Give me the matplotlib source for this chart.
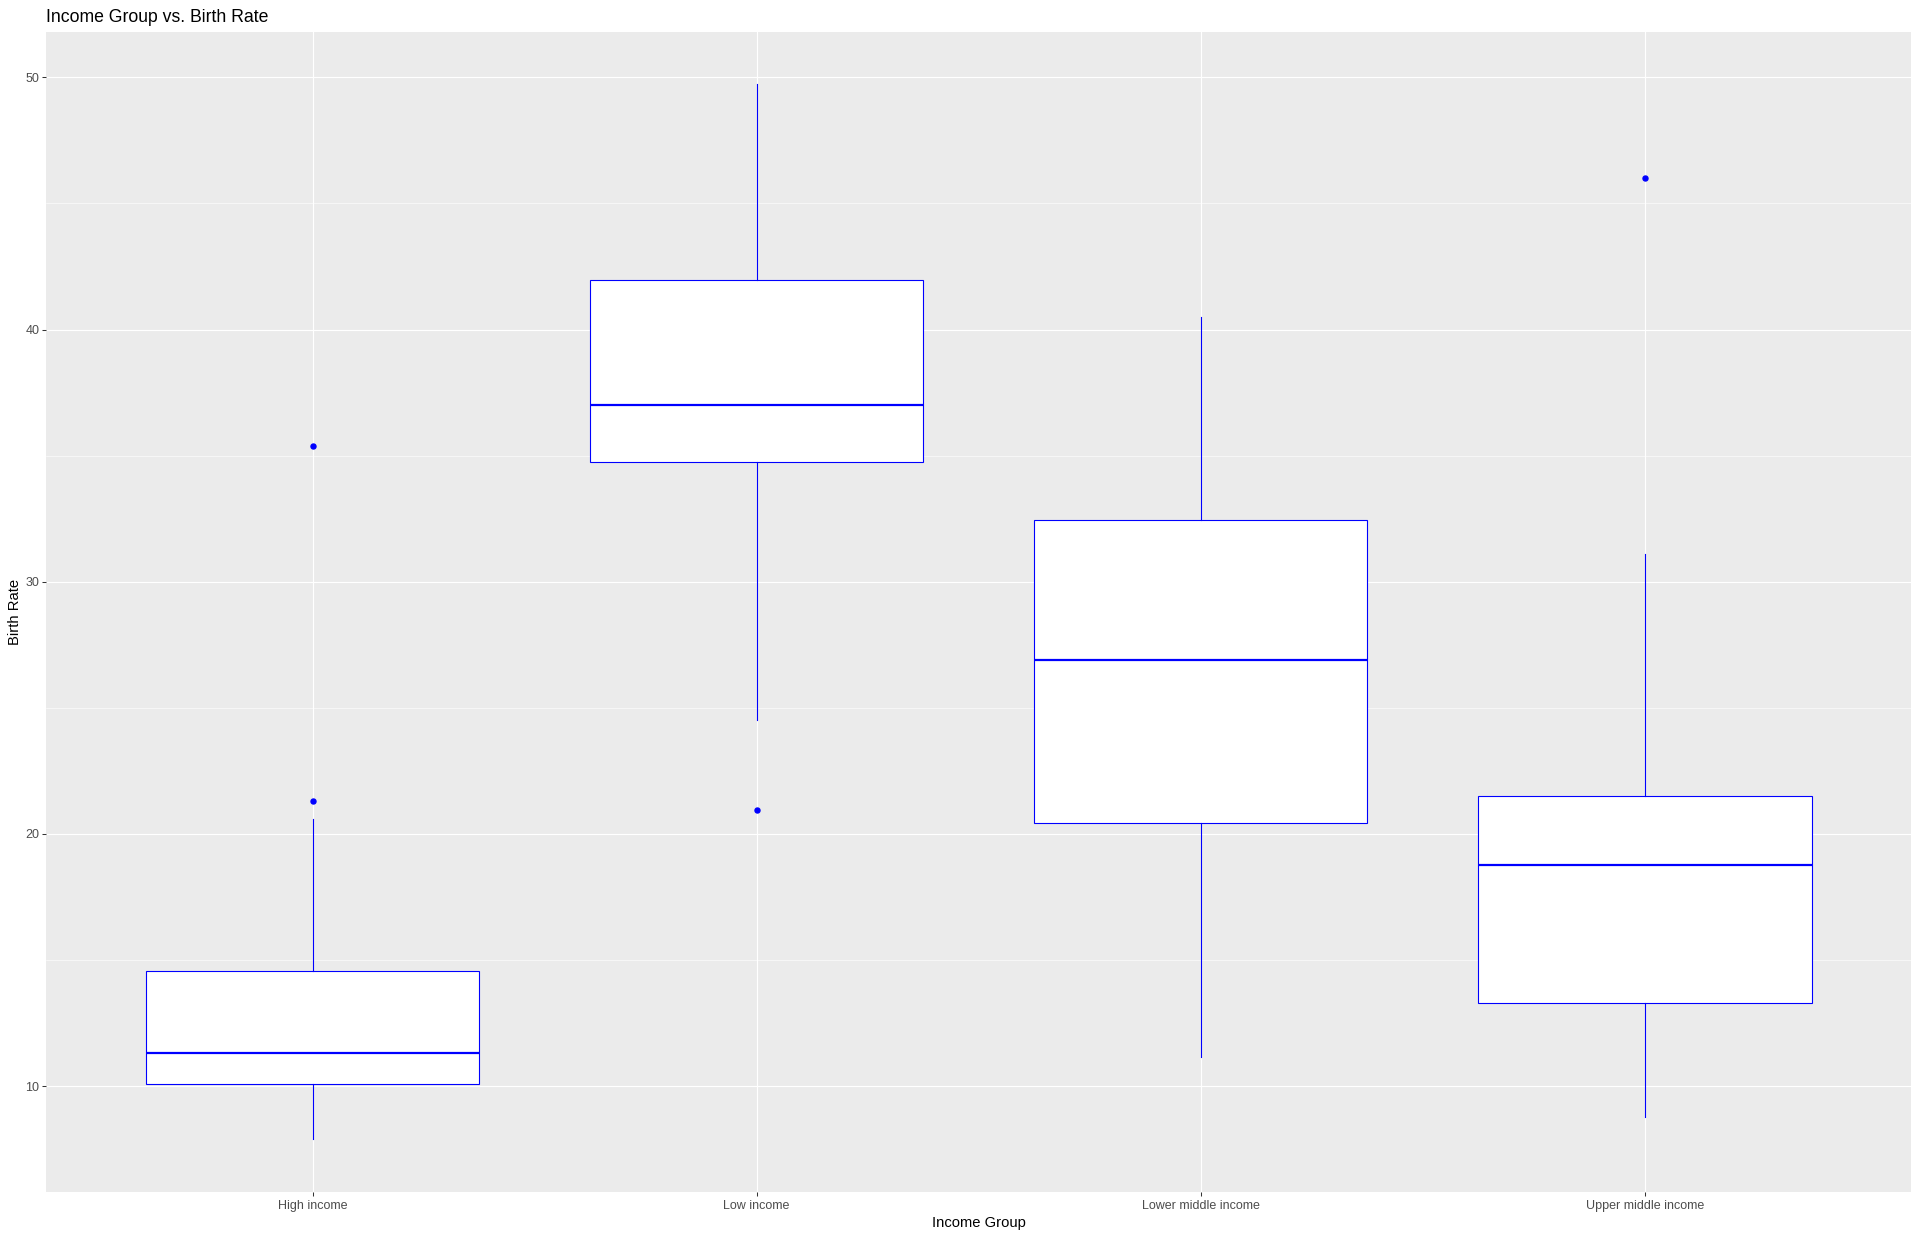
import matplotlib
matplotlib.use('Agg')
import matplotlib.pyplot as plt
from matplotlib.ticker import FixedLocator

categories = ["High income", "Low income", "Lower middle income", "Upper middle income"]
whisker_low = [7.91, 24.50, 11.17, 8.78]
q1 = [10.07, 34.76, 20.44, 13.29]
median = [11.31, 37.00, 26.89, 18.78]
q3 = [14.55, 41.97, 32.43, 21.51]
whisker_high = [20.60, 49.72, 40.49, 31.11]
outliers = [[21.30, 35.38], [20.94], [], [46.02]]
y_ticks = [10, 20, 30, 40, 50]
y_minor = [15, 25, 35, 45]

plt.rcParams['font.family'] = ['Liberation Sans', 'DejaVu Sans']

W, H = 1920, 1237
fig = plt.figure(figsize=(W / 100, H / 100), dpi=100)
left, right, top, bottom = 46, 1911.5, 31.7, 1191.5
ax = fig.add_axes([left / W, 1 - bottom / H, (right - left) / W, (bottom - top) / H])
ax.set_facecolor('#EBEBEB')
ax.set_axisbelow(True)

stats = []
for c, wl, a, m, b, wh, f in zip(categories, whisker_low, q1, median, q3, whisker_high, outliers):
    stats.append(dict(label=c, whislo=wl, q1=a, med=m, q3=b, whishi=wh, fliers=f))

positions = list(range(1, len(categories) + 1))
ax.bxp(stats, positions=positions, widths=0.75, patch_artist=True, showcaps=False,
       boxprops=dict(facecolor='white', edgecolor='blue', linewidth=0.8),
       whiskerprops=dict(color='blue', linewidth=0.8),
       medianprops=dict(color='blue', linewidth=1.6, solid_capstyle='butt'),
       flierprops=dict(marker='o', markerfacecolor='blue', markeredgecolor='blue',
                       markersize=3.6, linestyle='none'))

all_vals = whisker_low + whisker_high + [v for f in outliers for v in f]
lo, hi = min(all_vals), max(all_vals)
pad = (hi - lo) * 0.05
ax.set_ylim(lo - pad, hi + pad)
ax.set_xlim(0.4, len(categories) + 0.6)

ax.set_xticks(positions)
ax.set_xticklabels(categories)
ax.set_yticks(y_ticks)
ax.set_yticklabels([str(t) for t in y_ticks])
ax.yaxis.set_minor_locator(FixedLocator(y_minor))

ax.grid(which='major', color='white', linewidth=0.8)
ax.grid(which='minor', axis='y', color='white', linewidth=0.4)
for s in ax.spines.values():
    s.set_visible(False)

ax.tick_params(axis='both', which='major', length=2.65, width=0.75, color='#333333',
               labelcolor='#4D4D4D', labelsize=9.0, pad=2.2)
ax.tick_params(axis='x', which='major', pad=3.8)
ax.tick_params(axis='y', which='minor', length=0)

ax.set_xlabel('Income Group', fontsize=10.6, color='black', labelpad=2.6)
ax.set_ylabel('Birth Rate', fontsize=10.6, color='black', labelpad=2.2)
ax.set_title('Income Group vs. Birth Rate', loc='left', fontsize=12.7, color='black', pad=7)

fig.savefig('out.png', dpi=100, facecolor='white')
